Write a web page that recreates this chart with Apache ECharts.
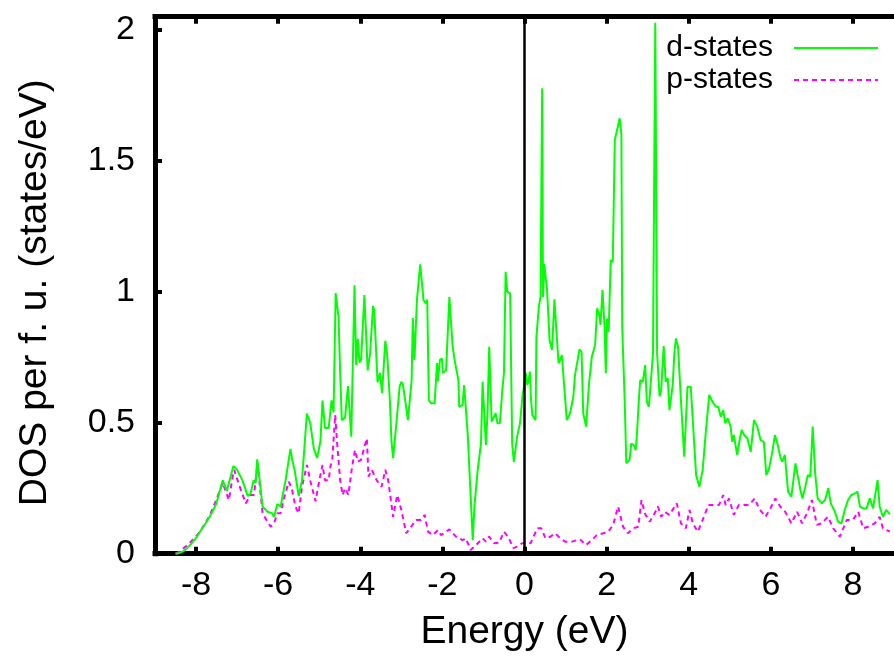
<!DOCTYPE html>
<html>
<head>
<meta charset="utf-8">
<script src="https://cdn.jsdelivr.net/npm/echarts@6/dist/echarts.min.js"></script>
<style>
html,body{margin:0;padding:0;background:#fff;}
#chart{width:894px;height:657px;}
</style>
</head>
<body>
<div id="chart"></div>
<script>
// ---- data ----
const dEnergy = [-8.5,-8.45,-8.3,-8.16,-8.0,-7.92,-7.75,-7.6,-7.51,-7.42,-7.35,-7.25,-7.2,-7.09,-7.0,-6.87,-6.74,-6.67,-6.6,-6.55,-6.51,-6.45,-6.38,-6.26,-6.15,-6.1,-6.02,-5.94,-5.82,-5.7,-5.66,-5.6,-5.5,-5.42,-5.3,-5.22,-5.13,-5.05,-4.97,-4.92,-4.86,-4.77,-4.7,-4.65,-4.6,-4.53,-4.49,-4.45,-4.37,-4.3,-4.22,-4.14,-4.1,-4.06,-4.02,-3.98,-3.9,-3.87,-3.82,-3.76,-3.69,-3.66,-3.58,-3.52,-3.47,-3.39,-3.34,-3.28,-3.24,-3.2,-3.12,-3.04,-3.0,-2.96,-2.9,-2.84,-2.75,-2.72,-2.68,-2.62,-2.54,-2.46,-2.4,-2.37,-2.33,-2.28,-2.19,-2.13,-2.11,-2.06,-2.01,-1.99,-1.91,-1.83,-1.75,-1.69,-1.61,-1.59,-1.51,-1.47,-1.38,-1.35,-1.26,-1.22,-1.14,-1.06,-1.02,-0.94,-0.9,-0.86,-0.8,-0.7,-0.66,-0.6,-0.54,-0.5,-0.46,-0.42,-0.35,-0.3,-0.26,-0.18,-0.11,-0.05,0.0,0.03,0.07,0.1,0.13,0.16,0.19,0.27,0.29,0.35,0.39,0.43,0.45,0.48,0.55,0.61,0.67,0.73,0.77,0.83,0.87,0.91,0.95,1.03,1.11,1.19,1.23,1.34,1.39,1.43,1.5,1.55,1.58,1.64,1.72,1.77,1.83,1.85,1.9,1.95,1.98,2.01,2.05,2.1,2.15,2.2,2.32,2.36,2.38,2.44,2.48,2.56,2.6,2.66,2.71,2.74,2.79,2.82,2.88,2.94,2.98,3.03,3.13,3.185,3.23,3.29,3.33,3.39,3.44,3.49,3.53,3.61,3.65,3.69,3.74,3.81,3.89,3.97,4.05,4.08,4.18,4.26,4.34,4.42,4.5,4.58,4.66,4.72,4.78,4.84,4.89,4.95,5.02,5.06,5.1,5.18,5.24,5.29,5.35,5.43,5.51,5.59,5.67,5.75,5.83,5.89,5.95,6.03,6.1,6.16,6.23,6.28,6.34,6.42,6.5,6.6,6.66,6.72,6.77,6.84,6.9,6.96,7.02,7.08,7.14,7.24,7.32,7.4,7.46,7.56,7.64,7.72,7.8,7.88,7.96,8.05,8.11,8.17,8.25,8.33,8.41,8.49,8.6,8.65,8.73,8.81,8.9];
const dDos = [0,0,0.01,0.03,0.06,0.08,0.12,0.16,0.19,0.24,0.28,0.24,0.27,0.335,0.32,0.28,0.22,0.23,0.28,0.27,0.36,0.28,0.18,0.16,0.155,0.14,0.19,0.18,0.28,0.40,0.36,0.32,0.22,0.28,0.535,0.50,0.40,0.365,0.43,0.585,0.48,0.48,0.585,0.54,0.995,0.905,0.69,0.51,0.52,0.64,0.447,1.025,0.72,0.82,0.73,0.74,0.987,0.98,0.70,0.765,0.945,0.93,0.655,0.69,0.613,0.813,0.75,0.587,0.43,0.365,0.5,0.64,0.656,0.645,0.58,0.51,0.66,0.90,0.74,0.968,1.105,0.968,0.956,0.97,0.587,0.574,0.574,0.728,0.66,0.74,0.745,0.69,0.70,0.98,0.79,0.728,0.663,0.561,0.567,0.644,0.45,0.346,0.052,0.18,0.32,0.42,0.656,0.415,0.54,0.79,0.504,0.536,0.498,0.498,0.625,0.69,1.076,1.0,0.994,0.42,0.35,0.447,0.498,0.6,0.65,0.69,0.644,0.66,0.695,0.587,0.53,0.51,0.828,0.943,0.98,1.777,0.98,1.106,1.006,0.816,0.778,0.971,0.866,0.727,0.74,0.758,0.752,0.51,0.536,0.6,0.682,0.78,0.77,0.536,0.485,0.6,0.663,0.752,0.797,0.937,0.905,0.873,1.006,0.866,0.689,0.898,0.847,1.12,1.114,1.58,1.662,1.60,0.866,0.587,0.345,0.358,0.42,0.415,0.395,0.46,0.6,0.663,0.656,0.72,0.58,0.561,0.765,2.027,0.765,0.6,0.625,0.793,0.656,0.67,0.548,0.644,0.765,0.822,0.79,0.587,0.37,0.637,0.637,0.631,0.3,0.256,0.32,0.472,0.606,0.58,0.561,0.561,0.523,0.548,0.498,0.517,0.485,0.427,0.453,0.377,0.434,0.472,0.453,0.44,0.389,0.51,0.485,0.434,0.427,0.3,0.32,0.383,0.453,0.421,0.37,0.351,0.377,0.237,0.218,0.345,0.294,0.243,0.211,0.256,0.3,0.294,0.485,0.307,0.211,0.192,0.205,0.25,0.192,0.16,0.122,0.116,0.167,0.205,0.224,0.23,0.237,0.18,0.173,0.173,0.211,0.173,0.281,0.18,0.141,0.167,0.15];

const pEnergy = [-8.5,-8.4,-8.16,-7.92,-7.68,-7.51,-7.35,-7.2,-7.11,-7.07,-6.95,-6.79,-6.67,-6.59,-6.5,-6.46,-6.38,-6.26,-6.18,-6.1,-6.02,-5.94,-5.86,-5.74,-5.66,-5.58,-5.5,-5.42,-5.3,-5.22,-5.09,-5.01,-4.92,-4.86,-4.77,-4.73,-4.68,-4.61,-4.57,-4.49,-4.43,-4.37,-4.29,-4.21,-4.13,-4.06,-3.98,-3.9,-3.84,-3.8,-3.72,-3.6,-3.48,-3.39,-3.32,-3.2,-3.1,-3.0,-2.88,-2.76,-2.64,-2.52,-2.43,-2.35,-2.23,-2.11,-2.03,-1.83,-1.67,-1.51,-1.43,-1.31,-1.18,-1.02,-0.94,-0.86,-0.74,-0.62,-0.5,-0.4,-0.27,-0.18,-0.06,0.07,0.15,0.31,0.41,0.51,0.63,0.75,0.87,0.99,1.15,1.35,1.5,1.64,1.76,1.92,2.04,2.16,2.28,2.4,2.52,2.65,2.77,2.85,2.93,3.05,3.17,3.25,3.33,3.41,3.53,3.63,3.71,3.81,3.93,4.02,4.1,4.22,4.34,4.48,4.62,4.74,4.84,4.9,4.98,5.1,5.22,5.35,5.47,5.61,5.71,5.87,5.99,6.11,6.23,6.35,6.5,6.64,6.76,6.88,7.0,7.12,7.24,7.39,7.52,7.68,7.85,8.0,8.13,8.25,8.37,8.53,8.65,8.73,8.9];
const pDos = [0,0.008,0.04,0.08,0.141,0.205,0.27,0.205,0.294,0.32,0.262,0.192,0.224,0.224,0.345,0.28,0.154,0.122,0.103,0.116,0.154,0.154,0.211,0.275,0.243,0.18,0.154,0.256,0.339,0.28,0.2,0.27,0.339,0.28,0.28,0.33,0.364,0.53,0.434,0.28,0.224,0.25,0.224,0.32,0.396,0.351,0.358,0.408,0.44,0.294,0.32,0.28,0.256,0.32,0.28,0.141,0.224,0.167,0.078,0.103,0.129,0.129,0.148,0.084,0.071,0.09,0.071,0.093,0.065,0.052,0.059,0.014,0.033,0.059,0.046,0.065,0.04,0.042,0.084,0.065,0.021,0.027,0.04,0.04,0.04,0.097,0.097,0.059,0.065,0.078,0.059,0.046,0.046,0.055,0.033,0.052,0.071,0.078,0.084,0.11,0.18,0.103,0.078,0.097,0.103,0.205,0.154,0.122,0.154,0.18,0.141,0.16,0.148,0.173,0.192,0.116,0.097,0.167,0.116,0.084,0.129,0.186,0.186,0.186,0.224,0.186,0.211,0.148,0.186,0.186,0.186,0.211,0.173,0.141,0.173,0.211,0.18,0.16,0.116,0.16,0.116,0.154,0.205,0.11,0.116,0.141,0.097,0.065,0.129,0.129,0.16,0.097,0.103,0.116,0.141,0.097,0.084];

const xTicks = [-8,-6,-4,-2,0,2,4,6,8];
const yTicks = [0,0.5,1,1.5,2];
const seriesNames = ['d-states','p-states'];
const xTitle = 'Energy (eV)';
const yTitle = 'DOS per f. u. (states/eV)';

// ---- chart ----
const FONT = '"Liberation Sans", Arial, Helvetica, sans-serif';
const chart = echarts.init(document.getElementById('chart'), null, {renderer:'canvas'});
const pairs = (xs, ys) => xs.map((x, i) => [x, ys[i]]);
const frame = {lineStyle:{color:'#000', width:5, cap:'square'}};
const ticks = (vals) => ({show:true, inside:true, length:7, customValues:vals, lineStyle:{color:'#000', width:4}});

chart.setOption({
  animation:false,
  backgroundColor:'#fff',
  grid:{left:155, right:-5.5, top:16.7, bottom:103.3, containLabel:false},
  legend:{
    orient:'vertical', right:10, top:28, align:'right',
    itemWidth:84, itemHeight:14, itemGap:2,
    itemStyle:{opacity:0},
    textStyle:{fontFamily:FONT, fontSize:30, color:'#000', padding:[0,16,0,0]},
    data:seriesNames
  },
  xAxis:[{
    type:'value', min:-9, max:9, position:'bottom',
    axisLine:{show:true, onZero:false, ...frame},
    axisTick:ticks(xTicks),
    axisLabel:{customValues:xTicks, fontFamily:FONT, fontSize:34, color:'#000', margin:15},
    splitLine:{show:false},
    name:xTitle, nameLocation:'middle', nameGap:59,
    nameTextStyle:{fontFamily:FONT, fontSize:39, color:'#000'}
  },{
    type:'value', min:-9, max:9, position:'top',
    axisLine:{show:true, onZero:false, ...frame},
    axisTick:ticks(xTicks),
    axisLabel:{show:false},
    splitLine:{show:false}
  }],
  yAxis:[{
    type:'value', min:0, max:2.05, position:'left',
    axisLine:{show:true, onZero:false, ...frame},
    axisTick:ticks(yTicks),
    axisLabel:{customValues:yTicks, fontFamily:FONT, fontSize:34, color:'#000', margin:20},
    splitLine:{show:false},
    name:yTitle, nameLocation:'middle', nameGap:100,
    nameTextStyle:{fontFamily:FONT, fontSize:39, color:'#000', padding:[0,15,0,0]}
  }],
  series:[{
    name:seriesNames[0], type:'line', xAxisIndex:0, yAxisIndex:0,
    data:pairs(dEnergy, dDos), symbol:'none', showSymbol:false,
    lineStyle:{color:'#00ff00', width:2}, itemStyle:{color:'#00ff00'},
    z:3,
    markLine:{
      silent:true, symbol:'none', label:{show:false},
      lineStyle:{color:'#000', width:2.5, type:'solid'},
      data:[{xAxis:0}]
    }
  },{
    name:seriesNames[1], type:'line', xAxisIndex:0, yAxisIndex:0,
    data:pairs(pEnergy, pDos), symbol:'none', showSymbol:false,
    lineStyle:{color:'#ff00ff', width:2, type:[5,4]}, itemStyle:{color:'#ff00ff'},
    z:2
  }]
});
</script>
</body>
</html>
